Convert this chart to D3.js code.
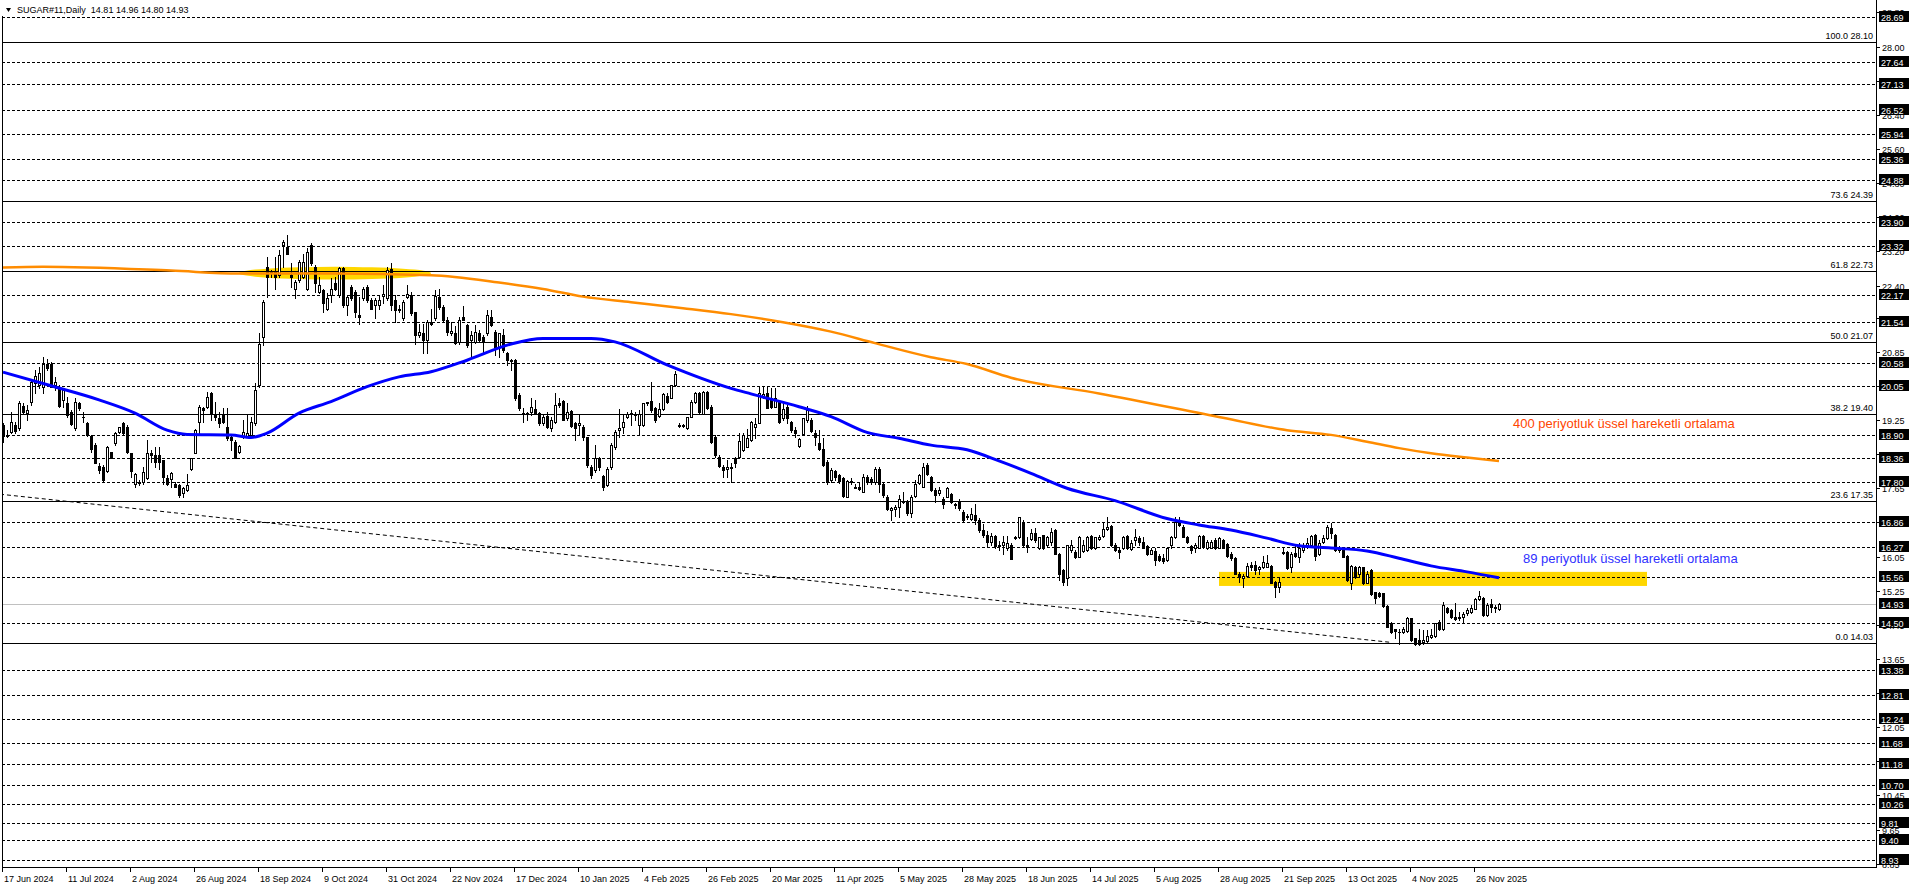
<!DOCTYPE html>
<html><head><meta charset="utf-8">
<script src="https://cdn.jsdelivr.net/npm/d3@7/dist/d3.min.js"></script>
<style>body{margin:0;background:#fff}svg{display:block;font-family:"Liberation Sans",Arial,sans-serif}</style>
</head><body><svg id="c" width="1916" height="888"></svg>
<script>
// ---------------- data ----------------
const title = "SUGAR#11,Daily  14.81 14.96 14.80 14.93";
const dateLabels = ["17 Jun 2024","11 Jul 2024","2 Aug 2024","26 Aug 2024","18 Sep 2024","9 Oct 2024","31 Oct 2024","22 Nov 2024","17 Dec 2024","10 Jan 2025","4 Feb 2025","26 Feb 2025","20 Mar 2025","11 Apr 2025","5 May 2025","28 May 2025","18 Jun 2025","14 Jul 2025","5 Aug 2025","28 Aug 2025","21 Sep 2025","13 Oct 2025","4 Nov 2025","26 Nov 2025"];
const barsPerLabel = 16;
// daily candles: [open, high, low, close]
const ohlc = [
[19.13,19.17,18.74,18.87],[18.90,19.01,18.84,18.88],[18.97,19.44,18.94,19.21],[19.13,19.21,18.94,18.99],[19.05,19.69,19.01,19.65],
[19.58,19.65,19.40,19.44],[19.42,19.60,19.25,19.48],[19.68,20.19,19.60,20.15],[20.11,20.42,19.87,20.28],[20.07,20.50,19.99,20.34],
[20.03,20.73,19.87,20.57],[20.57,20.69,20.42,20.46],[20.57,20.61,20.03,20.03],[20.07,20.26,19.95,20.15],[20.03,20.07,19.56,19.58],
[19.72,19.99,19.56,19.95],[19.64,19.79,19.33,19.36],[19.44,19.48,19.13,19.15],[19.05,19.76,19.01,19.68],[19.64,19.68,19.48,19.52],
[19.33,19.44,19.21,19.32],[19.19,19.21,18.87,18.90],[18.87,18.90,18.49,18.58],[18.66,18.70,18.23,18.25],[18.18,18.23,18.00,18.08],
[18.14,18.19,17.80,17.84],[18.06,18.64,18.04,18.61],[18.49,18.50,18.35,18.37],[18.70,18.97,18.66,18.94],[18.96,19.09,18.94,19.09],
[19.18,19.21,18.90,18.94],[19.09,19.13,18.48,18.51],[18.47,18.47,17.92,18.06],[17.76,18.00,17.69,17.98],[17.78,17.84,17.72,17.80],
[17.80,18.15,17.76,18.04],[17.88,18.78,17.86,18.47],[18.47,18.54,18.27,18.42],[18.43,18.62,18.15,18.27],[18.43,18.62,18.11,18.27],
[18.31,18.31,17.76,17.92],[17.88,17.96,17.72,17.76],[17.86,18.04,17.69,18.00],[17.76,17.80,17.69,17.69],[17.72,17.74,17.45,17.49],
[17.53,17.69,17.45,17.65],[17.61,17.99,17.59,17.72],[18.09,18.37,18.08,18.35],[18.47,19.03,18.47,19.01],[19.21,19.60,18.90,19.56],
[19.52,19.56,19.21,19.48],[19.56,19.91,19.52,19.79],[19.87,19.91,19.25,19.39],[19.40,19.68,19.25,19.31],[19.29,19.44,19.09,19.17],
[19.40,19.52,19.17,19.21],[19.09,19.52,18.78,18.82],[18.86,18.90,18.54,18.78],[18.74,18.78,18.35,18.37],[18.49,18.66,18.47,18.64],
[18.86,19.25,18.82,18.97],[18.87,19.36,18.86,18.94],[18.90,19.33,18.86,19.21],[19.17,20.11,19.13,19.95],[20.07,21.28,20.03,21.04],
[21.20,22.06,21.01,22.02],[22.84,23.08,22.14,22.61],[22.72,22.76,22.61,22.69],[22.72,23.08,22.33,22.61],[22.65,23.23,22.61,23.11],
[23.35,23.47,22.84,23.43],[23.31,23.58,23.15,23.15],[22.65,22.92,22.37,22.61],[22.33,22.53,22.10,22.49],[22.53,23.00,22.49,22.96],
[22.61,23.15,22.57,22.96],[22.33,23.27,22.29,23.19],[23.35,23.39,22.88,22.92],[22.84,22.88,22.25,22.45],[22.25,22.61,22.22,22.41],
[22.29,22.33,21.79,21.98],[21.86,22.22,21.82,22.10],[22.18,22.57,22.02,22.33],[22.45,22.61,22.29,22.33],[22.18,22.84,22.14,22.80],
[22.80,22.84,21.90,21.94],[21.94,22.18,21.71,22.14],[22.37,22.41,22.06,22.10],[22.26,22.29,21.67,21.79],[21.72,22.14,21.51,21.67],
[22.10,22.37,22.06,22.31],[22.37,22.41,22.02,22.06],[22.06,22.10,21.86,21.86],[21.94,22.10,21.63,22.06],[21.94,22.18,21.86,22.06],
[22.15,22.41,21.98,22.20],[22.10,22.84,22.06,22.76],[22.78,22.92,21.82,21.94],[22.06,22.18,21.55,21.82],[21.86,21.94,21.79,21.82],
[21.63,22.06,21.59,22.02],[22.14,22.41,22.10,22.20],[22.18,22.26,21.71,21.75],[21.79,21.79,21.04,21.24],[21.24,21.51,21.20,21.32],
[21.28,21.51,20.81,21.12],[21.12,21.59,20.81,21.55],[21.55,21.86,21.47,21.51],[21.63,22.29,21.59,22.15],[22.12,22.33,21.86,21.90],
[21.89,21.94,21.55,21.59],[21.59,21.67,21.24,21.32],[21.28,21.55,21.24,21.33],[21.28,21.44,21.04,21.06],[21.08,21.67,21.04,21.59],
[21.67,21.92,21.59,21.59],[21.48,21.50,20.97,21.00],[21.12,21.33,20.73,21.24],[21.08,21.47,21.06,21.30],[21.28,21.36,21.08,21.12],
[21.20,21.24,20.81,21.08],[21.28,21.82,21.24,21.71],[21.67,21.82,21.44,21.47],[21.32,21.36,20.77,20.97],[20.97,21.29,20.73,21.28],
[21.24,21.37,20.85,20.88],[20.81,20.85,20.54,20.65],[20.66,20.69,20.42,20.62],[20.65,20.67,19.72,19.76],[19.83,19.87,19.48,19.52],
[19.42,19.52,19.21,19.39],[19.41,19.44,19.25,19.40],[19.44,19.76,19.36,19.56],[19.50,19.72,19.40,19.42],[19.42,19.44,19.13,19.17],
[19.17,19.36,19.13,19.33],[19.34,19.44,19.05,19.09],[19.05,19.33,19.00,19.25],[19.21,19.87,19.19,19.60],[19.65,19.76,19.56,19.60],
[19.69,19.72,19.25,19.25],[19.29,19.64,19.25,19.44],[19.46,19.48,19.09,19.11],[19.19,19.21,18.78,19.05],[19.13,19.40,18.90,19.17],
[19.09,19.13,18.78,18.86],[18.86,18.86,18.15,18.19],[18.15,18.19,17.88,17.96],[18.08,18.66,18.04,18.35],[18.35,18.39,18.08,18.15],
[17.94,17.96,17.61,17.69],[17.73,18.15,17.70,18.11],[18.15,18.70,18.11,18.66],[18.62,19.01,18.58,18.97],[19.01,19.50,18.86,19.05],
[19.09,19.40,18.94,19.21],[19.33,19.44,19.29,19.40],[19.42,19.48,19.13,19.39],[19.40,19.44,19.25,19.37],[19.13,19.48,18.90,19.39],
[19.13,19.65,19.11,19.65],[19.64,19.68,19.60,19.68],[19.69,20.13,19.44,19.48],[19.54,19.56,19.21,19.25],[19.35,19.64,19.33,19.50],
[19.50,19.87,19.48,19.86],[19.82,19.87,19.64,19.68],[19.77,20.07,19.76,20.07],[20.07,20.40,20.05,20.32],[19.13,19.19,19.09,19.11],
[19.12,19.15,19.08,19.10],[19.05,19.33,19.03,19.33],[19.33,19.72,19.31,19.68],[19.68,19.91,19.64,19.87],[19.87,19.91,19.40,19.44],
[19.40,19.94,19.39,19.91],[19.91,19.94,19.50,19.52],[19.56,19.60,18.72,18.74],[18.86,18.90,18.39,18.43],[18.39,18.43,18.15,18.17],
[18.15,18.19,17.92,18.08],[18.09,18.31,17.92,18.15],[18.15,18.23,17.79,18.12],[18.35,18.39,18.15,18.25],[18.39,18.95,18.35,18.76],
[18.55,18.94,18.53,18.90],[18.62,19.03,18.61,18.82],[18.78,19.23,18.76,19.21],[19.09,19.29,18.82,19.15],[19.19,20.03,19.17,19.87],
[19.81,20.04,19.76,19.86],[19.87,20.03,19.52,19.53],[19.76,19.99,19.52,19.56],[19.56,20.01,19.55,19.76],[19.69,19.72,19.19,19.21],
[19.29,19.64,19.26,19.50],[19.56,19.60,19.17,19.29],[19.21,19.23,18.97,19.01],[19.01,19.09,18.86,18.94],[18.64,18.82,18.62,18.80],
[18.92,19.29,18.90,19.29],[19.25,19.58,19.21,19.48],[19.25,19.29,18.97,19.00],[18.95,19.01,18.66,18.86],[18.70,19.01,18.55,18.58],
[18.58,18.82,18.18,18.19],[18.27,18.31,17.76,17.79],[17.85,18.12,17.80,18.07],[18.05,18.08,17.85,17.92],[17.95,17.98,17.78,17.82],
[17.88,17.92,17.45,17.47],[17.45,17.84,17.45,17.83],[17.80,17.88,17.76,17.83],[17.68,17.76,17.65,17.66],[17.68,17.80,17.62,17.64],
[17.57,17.98,17.55,17.92],[17.92,17.96,17.76,17.79],[17.86,17.92,17.76,17.80],[17.80,18.14,17.76,18.09],[18.09,18.14,17.57,17.75],
[17.76,17.80,17.45,17.49],[17.45,17.49,17.14,17.16],[17.14,17.20,16.90,17.18],[17.17,17.26,17.00,17.22],[17.22,17.49,16.98,17.39],
[17.35,17.57,17.30,17.33],[17.33,17.37,17.02,17.06],[17.08,17.48,16.98,17.45],[17.47,17.84,17.45,17.76],[17.78,17.98,17.76,17.96],
[17.69,18.25,17.67,18.14],[18.19,18.23,17.96,17.98],[17.92,17.94,17.59,17.61],[17.61,17.65,17.33,17.49],[17.53,17.68,17.49,17.62],
[17.39,17.45,17.18,17.28],[17.45,17.68,17.44,17.65],[17.51,17.53,17.30,17.33],[17.27,17.30,17.18,17.25],[17.33,17.39,17.15,17.18],
[17.10,17.14,16.86,16.90],[16.98,17.05,16.94,17.00],[16.94,17.18,16.90,17.04],[17.02,17.29,16.82,16.90],[16.90,16.95,16.62,16.68],
[16.68,16.80,16.50,16.55],[16.55,16.65,16.30,16.38],[16.38,16.60,16.33,16.52],[16.52,16.55,16.25,16.30],[16.30,16.42,16.20,16.33],
[16.32,16.53,16.11,16.40],[16.24,16.53,16.20,16.36],[16.33,16.36,15.99,16.00],[16.50,16.53,16.46,16.48],[16.50,16.98,16.48,16.97],
[16.87,16.90,16.29,16.32],[16.32,16.51,16.16,16.28],[16.47,16.69,16.44,16.59],[16.59,16.71,16.40,16.44],[16.24,16.51,16.22,16.50],
[16.55,16.55,16.22,16.24],[16.32,16.53,16.30,16.51],[16.40,16.71,16.32,16.63],[16.67,16.69,16.11,16.12],[16.12,16.14,15.50,15.65],
[15.73,15.75,15.38,15.46],[15.54,16.32,15.38,16.32],[16.20,16.44,16.16,16.32],[16.16,16.20,16.01,16.05],[16.05,16.53,16.03,16.51],
[16.19,16.44,16.16,16.32],[16.20,16.53,16.19,16.51],[16.53,16.55,16.22,16.24],[16.24,16.51,16.22,16.50],[16.46,16.55,16.44,16.51],
[16.53,16.83,16.51,16.69],[16.69,16.97,16.67,16.75],[16.76,16.79,16.29,16.32],[16.32,16.36,16.19,16.20],[16.20,16.28,16.01,16.16],
[16.24,16.53,16.22,16.51],[16.53,16.55,16.22,16.24],[16.22,16.44,16.20,16.36],[16.44,16.69,16.32,16.50],[16.48,16.53,16.32,16.40],
[16.40,16.51,16.24,16.26],[16.30,16.32,16.08,16.12],[16.12,16.26,16.11,16.20],[16.18,16.24,15.85,15.97],[16.06,16.11,15.94,15.97],
[16.01,16.12,15.89,15.95],[15.97,16.26,15.95,16.24],[16.32,16.53,16.24,16.50],[16.50,16.97,16.48,16.87],[16.90,16.97,16.76,16.79],
[16.75,16.79,16.50,16.51],[16.51,16.53,16.36,16.40],[16.30,16.32,16.14,16.20],[16.24,16.36,16.16,16.32],[16.26,16.55,16.24,16.53],
[16.53,16.55,16.26,16.28],[16.24,16.44,16.22,16.40],[16.26,16.44,16.24,16.40],[16.44,16.48,16.22,16.24],[16.26,16.50,16.24,16.48],
[16.44,16.45,16.24,16.26],[16.34,16.36,16.05,16.06],[16.12,16.16,15.97,16.01],[16.01,16.03,15.64,15.65],[15.63,15.69,15.46,15.58],
[15.54,15.65,15.33,15.59],[15.59,15.89,15.56,15.83],[15.85,15.93,15.73,15.80],[15.85,15.95,15.65,15.73],[15.75,15.83,15.65,15.80],
[15.81,16.06,15.77,15.93],[15.81,16.08,15.80,15.89],[15.83,15.85,15.42,15.44],[15.46,15.48,15.09,15.33],[15.34,15.58,15.22,15.46],
[16.16,16.24,16.11,16.14],[16.16,16.19,15.75,15.77],[15.81,16.16,15.69,16.12],[16.14,16.32,16.05,16.06],[16.05,16.36,15.93,16.24],
[16.20,16.36,16.16,16.28],[16.28,16.48,16.24,16.36],[16.32,16.55,16.30,16.53],[16.55,16.58,15.97,16.06],[16.11,16.44,16.08,16.36],
[16.40,16.55,16.36,16.48],[16.48,16.79,16.45,16.75],[16.71,16.84,16.48,16.59],[16.55,16.58,16.19,16.20],[16.20,16.30,16.16,16.26],
[16.24,16.26,16.03,16.05],[16.06,16.08,15.48,15.50],[15.42,15.85,15.30,15.83],[15.80,15.83,15.54,15.58],[15.65,15.83,15.58,15.80],
[15.80,15.81,15.40,15.42],[15.44,15.72,15.42,15.65],[15.73,15.75,15.15,15.17],[15.21,15.22,14.97,15.07],[15.19,15.22,15.11,15.13],
[15.19,15.20,14.87,14.89],[14.89,14.91,14.39,14.40],[14.50,14.52,14.26,14.29],[14.34,14.36,14.13,14.31],[14.29,14.34,14.01,14.27],
[14.29,14.40,14.25,14.34],[14.31,14.64,14.29,14.60],[14.60,14.62,14.08,14.09],[14.13,14.15,13.97,14.01],[14.09,14.34,13.97,14.01],
[14.05,14.33,14.01,14.09],[14.08,14.33,14.05,14.19],[14.16,14.34,14.13,14.21],[14.19,14.50,14.17,14.48],[14.52,14.56,14.33,14.34],
[14.34,14.99,14.33,14.91],[14.84,14.87,14.73,14.76],[14.80,14.81,14.60,14.64],[14.64,14.97,14.56,14.58],[14.60,14.76,14.56,14.64],
[14.64,14.76,14.48,14.70],[14.73,14.84,14.68,14.80],[14.76,14.91,14.73,14.85],[14.83,15.07,14.81,15.05],[15.05,15.23,15.02,15.13],
[15.07,15.11,14.65,14.68],[14.68,14.95,14.65,14.91],[14.93,15.05,14.76,14.87],[14.87,14.91,14.76,14.84],[14.81,14.96,14.80,14.93]
];
// moving averages (bar index, value)
const ema89Bars = [0,12,24,33,41,46,57,62,66,74,82,91,99,107,116,127,135,147,153,166,182,187,199,207,216,224,232,241,249,257,266,278,291,299,307,316,324,332,341,349,357,366,374];
const ema89 =     [20.37,20.05,19.72,19.41,19.01,18.91,18.90,18.84,18.94,19.41,19.68,20.03,20.26,20.38,20.65,21.03,21.16,21.16,21.08,20.54,19.99,19.86,19.56,19.33,18.96,18.82,18.66,18.55,18.29,18.00,17.65,17.36,16.94,16.79,16.67,16.48,16.30,16.25,16.18,16.01,15.83,15.69,15.55];
const ema400Bars = [0,10,42,59,83,107,124,135,145,157,170,182,195,207,218,232,241,252,274,305,321,332,341,349,357,366,374];
const ema400 =     [22.82,22.84,22.75,22.68,22.68,22.64,22.47,22.32,22.14,22.01,21.87,21.73,21.54,21.32,21.05,20.72,20.56,20.24,19.87,19.30,19.01,18.90,18.74,18.59,18.47,18.37,18.29];
const levels = [28.69,27.64,27.13,26.52,25.94,25.36,24.88,23.90,23.32,22.17,21.54,20.58,20.05,18.90,18.36,17.80,16.86,16.27,15.56,14.50,13.38,12.81,12.24,11.68,11.18,10.70,10.26,9.81,9.40,8.93];
const fibPct = ["100.0","73.6","61.8","50.0","38.2","23.6","0.0"];
const fibPrice = [28.10,24.39,22.73,21.07,19.40,17.35,14.03];
const axisTicks = [28.80,28.00,27.20,26.40,25.60,24.80,24.00,23.20,22.40,21.65,20.85,20.05,19.25,18.45,17.65,16.85,16.05,15.25,14.45,13.65,12.85,12.05,11.25,10.45,9.65,8.85];
const lastPrice = 14.93;
const trendBars = [-0.75, 346.75], trendPrices = [17.51, 14.04];
const zoneBars = [304, 411], zonePrices = [15.69, 15.36];
const ellipseBars = [59, 107], ellipsePrices = [22.84, 22.54];
const noteTexts = ["400 periyotluk üssel hareketli ortalama", "89 periyotluk üssel hareketli ortalama"];
const noteBars = [377.5, 380];
const notePrices = [19.06, 15.90];

// ---------------- drawing ----------------
const svg = d3.select("#c");
const W = 1916, H = 888;
const L = 2, R = 1876, T = 16, B = 867;
const x = d3.scaleLinear().domain([0, ohlc.length - 1]).range([3, 3 + 4 * (ohlc.length - 1)]);
const y = d3.scaleLinear().domain([14.03, 28.10]).range([642.7, 42.3]);
const cr = v => Math.round(v) + 0.5;

svg.append("rect").attr("width", W).attr("height", H).attr("fill", "#fff");

const plot = svg.append("g");
plot.append("defs").append("clipPath").attr("id", "pc").append("rect")
  .attr("x", L).attr("y", 0).attr("width", R - L).attr("height", B);
const g = plot.append("g").attr("clip-path", "url(#pc)");

// yellow highlight objects
g.append("rect")
  .attr("x", x(zoneBars[0])).attr("width", x(zoneBars[1]) - x(zoneBars[0]))
  .attr("y", y(zonePrices[0])).attr("height", y(zonePrices[1]) - y(zonePrices[0]))
  .attr("fill", "#FFD700");
g.append("ellipse")
  .attr("cx", (x(ellipseBars[0]) + x(ellipseBars[1])) / 2).attr("rx", (x(ellipseBars[1]) - x(ellipseBars[0])) / 2)
  .attr("cy", (y(ellipsePrices[0]) + y(ellipsePrices[1])) / 2).attr("ry", (y(ellipsePrices[1]) - y(ellipsePrices[0])) / 2)
  .attr("fill", "#FFD700");

// horizontal levels
g.selectAll("line.lvl").data(levels).join("line").attr("class", "lvl")
  .attr("x1", L).attr("x2", R).attr("y1", d => cr(y(d))).attr("y2", d => cr(y(d)))
  .attr("stroke", "#000").attr("stroke-width", 1).attr("stroke-dasharray", "3,2");
g.selectAll("line.fib").data(fibPrice).join("line").attr("class", "fib")
  .attr("x1", L).attr("x2", R).attr("y1", d => cr(y(d))).attr("y2", d => cr(y(d)))
  .attr("stroke", "#000").attr("stroke-width", 1);
g.append("line").attr("x1", L).attr("x2", R).attr("y1", cr(y(lastPrice))).attr("y2", cr(y(lastPrice)))
  .attr("stroke", "#C0C0C0").attr("stroke-width", 1);

// trend line
g.append("line")
  .attr("x1", x(trendBars[0])).attr("y1", y(trendPrices[0]))
  .attr("x2", x(trendBars[1])).attr("y2", y(trendPrices[1]))
  .attr("stroke", "#000").attr("stroke-width", 1).attr("stroke-dasharray", "4,3");

// candles
const cg = g.append("g");
ohlc.forEach((d, i) => {
  const [o, h, l, c] = d;
  const cx = Math.round(x(i));
  const yh = Math.round(y(h)), yl = Math.round(y(l));
  cg.append("rect").attr("x", cx).attr("y", yh).attr("width", 1).attr("height", Math.max(1, yl - yh + 1)).attr("fill", "#000");
  const top = Math.round(y(Math.max(o, c))), bot = Math.round(y(Math.min(o, c)));
  if (c >= o) {
    cg.append("rect").attr("x", cx - 0.5).attr("y", top + 0.5).attr("width", 2).attr("height", Math.max(0, bot - top))
      .attr("fill", "#fff").attr("stroke", "#000").attr("stroke-width", 1);
  } else {
    cg.append("rect").attr("x", cx - 1).attr("y", top).attr("width", 3).attr("height", Math.max(1, bot - top + 1)).attr("fill", "#000");
  }
});

// moving averages
const line = d3.line().x(d => x(d[0])).y(d => y(d[1])).curve(d3.curveMonotoneX);
g.append("path").datum(ema400Bars.map((b, k) => [b, ema400[k]])).attr("d", line)
  .attr("fill", "none").attr("stroke", "#FF8C00").attr("stroke-width", 2.5);
g.append("path").datum(ema89Bars.map((b, k) => [b, ema89[k]])).attr("d", line)
  .attr("fill", "none").attr("stroke", "#0000FF").attr("stroke-width", 3);

// annotation texts
noteTexts.forEach((t, k) => {
  g.append("text").attr("x", x(noteBars[k])).attr("y", y(notePrices[k])).text(t)
    .attr("font-size", 13).attr("fill", k === 0 ? "#FF4500" : "#3030FF");
});

// fib labels
fibPrice.forEach((p, k) => {
  g.append("text").attr("x", R - 3).attr("y", Math.round(y(p)) - 3).attr("text-anchor", "end")
    .attr("font-size", 9).attr("fill", "#000").text(fibPct[k] + " " + p.toFixed(2));
});

// frame
svg.append("line").attr("x1", R + 0.5).attr("x2", R + 0.5).attr("y1", 0).attr("y2", B + 1).attr("stroke", "#000");
svg.append("line").attr("x1", L).attr("x2", R + 1).attr("y1", B + 0.5).attr("y2", B + 0.5).attr("stroke", "#000");
svg.append("line").attr("x1", L + 0.5).attr("x2", L + 0.5).attr("y1", T).attr("y2", B + 1).attr("stroke", "#000");

// title
svg.append("path").attr("d", "M6,8 L11,8 L8.5,12 Z").attr("fill", "#000");
svg.append("text").attr("x", 17).attr("y", 13).attr("font-size", 9).attr("fill", "#000")
  .style("white-space", "pre").text(title);

// price axis
const ax = svg.append("g");
axisTicks.forEach(p => {
  const yy = Math.round(y(p));
  ax.append("line").attr("x1", R + 1).attr("x2", R + 4).attr("y1", yy + 0.5).attr("y2", yy + 0.5).attr("stroke", "#000");
  ax.append("text").attr("x", R + 6).attr("y", yy + 4).attr("font-size", 9).attr("fill", "#000").text(p.toFixed(2));
});
[...levels, lastPrice].forEach(p => {
  const yy = Math.round(y(p));
  ax.append("rect").attr("x", R + 3).attr("y", yy - 6).attr("width", 30).attr("height", 11).attr("fill", "#000");
  ax.append("text").attr("x", R + 5).attr("y", yy + 3.5).attr("font-size", 9).attr("fill", "#fff").text(p.toFixed(2));
});

// date axis
dateLabels.forEach((t, k) => {
  const xx = Math.round(x(k * barsPerLabel)) - 1;
  svg.append("line").attr("x1", xx + 0.5).attr("x2", xx + 0.5).attr("y1", B + 1).attr("y2", B + 5).attr("stroke", "#000");
  svg.append("text").attr("x", xx + 2).attr("y", B + 15).attr("font-size", 9).attr("fill", "#000").text(t);
});
</script>
</body></html>
